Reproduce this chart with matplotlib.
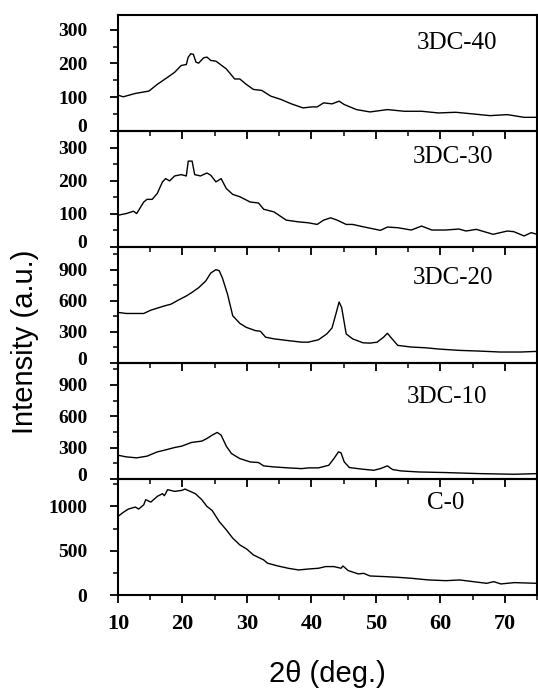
import matplotlib
matplotlib.use("Agg")
import matplotlib.pyplot as plt
from matplotlib.ticker import MultipleLocator
from matplotlib.transforms import ScaledTranslation

# ---- data ----
x_40 = [10, 10.8, 12.7, 14.8, 16.1, 17.7, 18.8, 19.8, 20.6, 20.9, 21.3, 21.7, 22.1, 22.5,
        23.3, 23.8, 24.4, 25.2, 26.8, 28.1, 28.9, 29.9, 31.0, 32.3, 33.7, 35.3, 36.9,
        38.7, 40.1, 40.9, 41.9, 43.2, 44.3, 45.1, 47.0, 49.1, 51.8, 54.4, 57.1, 59.7,
        62.4, 65.1, 67.7, 70.4, 73.0, 75]
y_40 = [106, 101, 111, 118, 138, 159, 174, 194, 197, 219, 229, 227, 204, 201,
        217, 219, 209, 207, 184, 154, 154, 138, 123, 120, 103, 93, 80,
        68, 71, 71, 83, 80, 88, 78, 63, 56, 63, 58, 58, 53,
        55, 50, 45, 48, 40, 40]

x_30 = [10, 11.3, 12.4, 12.9, 14.0, 14.5, 15.3, 16.1, 16.9, 17.4, 18.0, 18.8, 19.8, 20.6,
        20.9, 21.5, 21.9, 22.8, 23.8, 24.4, 25.2, 26.0, 26.8, 27.8, 28.9, 30.5, 31.8,
        32.6, 34.2, 36.1, 37.9, 39.5, 40.9, 41.9, 43.0, 44.0, 45.4, 46.4, 48.0, 50.7,
        51.8, 53.4, 55.5, 57.1, 58.7, 60.8, 62.9, 64.0, 65.6, 68.2, 70.4, 71.4, 73.0,
        74.1, 75]
y_30 = [96, 101, 108, 101, 136, 144, 144, 162, 197, 207, 200, 215, 219, 215,
        260, 260, 219, 215, 224, 217, 197, 207, 177, 159, 152, 136, 133,
        114, 106, 81, 76, 73, 68, 81, 88, 81, 68, 68, 61, 50,
        60, 58, 51, 63, 51, 51, 54, 48, 53, 38, 48, 46, 33,
        43, 38]

x_20 = [10, 11.3, 14.0, 15.1, 17.2, 18.2, 19.3, 20.6, 21.4, 22.5, 23.6, 24.4, 25.2, 25.7,
        26.2, 27.0, 27.8, 28.9, 29.9, 31.3, 32.1, 32.9, 34.2, 36.3, 38.5, 39.5, 41.1,
        42.4, 43.2, 43.8, 44.3, 44.7, 45.4, 46.4, 48.0, 49.1, 50.2, 51.2, 51.8, 52.3,
        53.4, 55.5, 57.7, 59.7, 62.9, 66.1, 69.3, 72.5, 75]
y_20 = [487, 477, 477, 509, 550, 566, 604, 646, 677, 725, 789, 868, 900, 890,
        820, 661, 455, 382, 343, 312, 305, 248, 232, 216, 200, 200, 223,
        280, 337, 471, 588, 534, 280, 232, 194, 191, 200, 248, 286, 248,
        169, 153, 146, 134, 121, 114, 105, 105, 111]

x_10 = [10, 11.3, 12.9, 14.5, 16.1, 17.2, 18.8, 19.9, 21.4, 23.0, 23.8, 24.6, 25.4, 26.0,
        26.8, 27.6, 28.9, 30.5, 31.8, 32.6, 34.2, 36.4, 38.5, 39.6, 41.1, 42.7, 43.5,
        44.2, 44.6, 45.1, 45.9, 48.0, 49.7, 50.7, 51.8, 52.6, 53.9, 56.6, 60.9, 66.2,
        71.5, 75]
y_10 = [227, 211, 202, 218, 259, 275, 301, 314, 349, 362, 387, 419, 445, 419,
        314, 243, 195, 163, 157, 125, 115, 106, 99, 106, 106, 131, 195,
        259, 250, 163, 109, 93, 83, 99, 125, 90, 77, 67, 61, 51,
        45, 51]

x_0 = [10, 10.8, 11.6, 12.7, 13.2, 14.0, 14.3, 15.1, 16.1, 16.9, 17.2, 17.7, 18.8, 19.9,
       20.4, 21.2, 22.0, 23.0, 23.8, 24.6, 25.7, 26.8, 27.8, 28.9, 30.0, 31.0, 32.6,
       33.2, 34.8, 36.4, 38.0, 39.6, 41.1, 42.2, 43.5, 44.6, 44.9, 45.7, 47.3, 48.1,
       49.1, 51.3, 53.4, 55.5, 58.2, 60.9, 63.0, 65.1, 67.2, 68.3, 69.4, 71.5, 75]
y_0 = [887, 932, 970, 993, 970, 1019, 1076, 1049, 1113, 1144, 1121, 1189, 1170, 1181,
       1196, 1170, 1144, 1076, 1000, 955, 830, 736, 642, 566, 517, 453, 396,
       359, 328, 302, 283, 294, 302, 321, 321, 302, 328, 276, 238, 245,
       215, 208, 200, 189, 170, 162, 170, 151, 132, 151, 125, 140, 132]

sample_names = ["3DC-40", "3DC-30", "3DC-20", "3DC-10", "C-0"]
y_limits = [345, 352, 1120, 1110, 1310]
major_steps = [100, 100, 300, 300, 500]
minor_steps = [50, 50, 150, 150, 250]
x_ticks = [10, 20, 30, 40, 50, 60, 70]

series = [(x_40, y_40), (x_30, y_30), (x_20, y_20), (x_10, y_10), (x_0, y_0)]
label_pos = [(0.81, 0.76), (0.80, 0.77), (0.80, 0.73), (0.786, 0.71), (0.783, 0.79)]

serif = "Liberation Serif"
sans = "Liberation Sans"

fig, axes = plt.subplots(5, 1, sharex=True, figsize=(5.38, 6.91), dpi=100)
fig.subplots_adjust(left=0.2193, right=0.9981, top=0.9787, bottom=0.1389, hspace=0)

for i, ax in enumerate(axes):
    xs, ys = series[i]
    ax.set_facecolor("none")
    ax.plot(xs, ys, color="black", lw=1.0)
    ax.set_xlim(10, 75)
    ax.set_ylim(0, y_limits[i])
    ax.yaxis.set_major_locator(MultipleLocator(major_steps[i]))
    ax.yaxis.set_minor_locator(MultipleLocator(minor_steps[i]))
    ax.set_xticks(x_ticks)
    ax.xaxis.set_minor_locator(MultipleLocator(5))
    for s in ax.spines.values():
        s.set_linewidth(1.5)
    ax.tick_params(axis="both", which="major", direction="out", length=6, width=1.3)
    ax.tick_params(axis="both", which="minor", direction="out", length=3.5, width=1.1)
    ax.tick_params(axis="y", pad=16, labelsize=14)
    for lab in ax.get_yticklabels():
        lab.set_fontfamily(serif)
        lab.set_fontweight("bold")
    ax.text(label_pos[i][0], label_pos[i][1], sample_names[i], transform=ax.transAxes,
            ha="center", va="center", fontsize=18, family=serif)
    if i < 4:
        ax.tick_params(axis="x", labelbottom=False)

for lab in axes[-1].get_xticklabels():
    lab.set_fontfamily(serif)
    lab.set_fontweight("bold")
    lab.set_fontsize(16)
axes[-1].tick_params(axis="x", pad=8)

fig.text(0.047, 0.505, "Intensity (a.u.)", rotation=90, ha="center", va="center",
         fontsize=21, family=sans)
fig.text(0.609, 0.025, "2θ (deg.)", ha="center", va="center", fontsize=21, family=sans)

# lift the "0" label of stacked panels slightly, as in the reference
fig.canvas.draw()
lift = ScaledTranslation(0, 3.5 / 72, fig.dpi_scale_trans)
for ax in axes[:4]:
    for t in ax.yaxis.get_major_ticks():
        if abs(t.get_loc()) < 1e-9:
            t.label1.set_transform(t.label1.get_transform() + lift)

fig.savefig("out.png", dpi=100)
